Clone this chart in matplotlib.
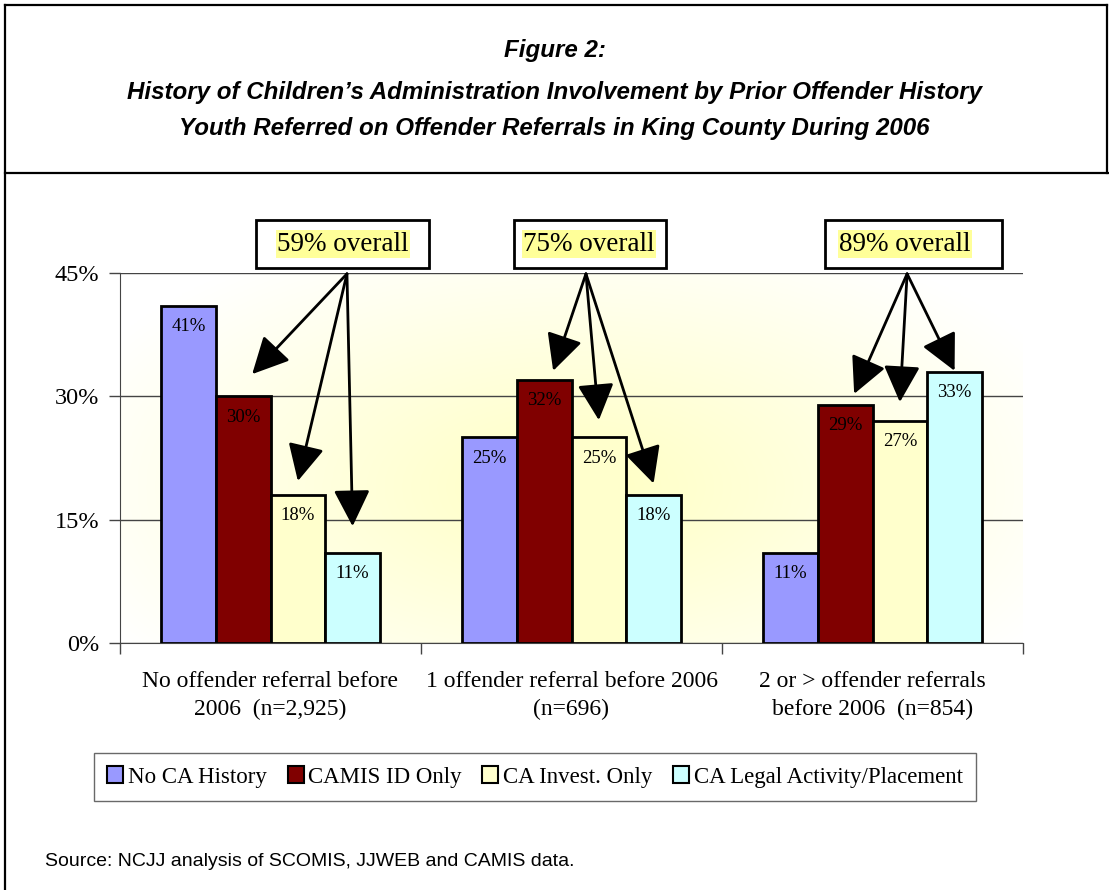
import numpy as np
import matplotlib
matplotlib.use("Agg")
import matplotlib.pyplot as plt
from matplotlib.patches import Patch, Rectangle
from matplotlib.lines import Line2D

# Data
categories = ["No offender referral before\n2006  (n=2,925)",
              "1 offender referral before 2006\n(n=696)",
              "2 or > offender referrals\nbefore 2006  (n=854)"]
series = ["No CA History", "CAMIS ID Only", "CA Invest. Only",
          "CA Legal Activity/Placement"]
no_ca = [41, 25, 11]
camis_id = [30, 32, 29]
ca_invest = [18, 25, 27]
ca_legal = [11, 18, 33]
overall = ["59% overall", "75% overall", "89% overall"]
bar_labels = [["41%", "25%", "11%"], ["30%", "32%", "29%"],
              ["18%", "25%", "27%"], ["11%", "18%", "33%"]]
colors = ["#9999FF", "#800000", "#FFFFCC", "#CCFFFF"]

SERIF = ["Liberation Serif", "DejaVu Serif"]
SANS = ["Liberation Sans", "DejaVu Sans"]

fig = plt.figure(figsize=(11.09, 8.90), dpi=100)
ax = fig.add_axes([120 / 1109, 1 - 643 / 890, 903 / 1109, 370 / 890])

# radial yellow glow behind the bars
gx, gy = np.meshgrid(np.linspace(0, 1, 300), np.linspace(0, 1, 300))
r = np.clip(np.sqrt(((gx - 0.5) / 0.6) ** 2 + ((gy - 0.42) / 0.75) ** 2), 0, 1)
glow = np.array([1.0, 1.0, 0.76])
img = (1 - r)[..., None] * glow + r[..., None] * np.array([1.0, 1.0, 1.0])
ax.imshow(img, extent=[-0.5, 2.5, 0, 45], aspect="auto", origin="lower", zorder=0)

x = np.arange(len(categories))
w = 1 / 5.5
all_vals = [no_ca, camis_id, ca_invest, ca_legal]
for i, vals in enumerate(all_vals):
    pos = x + (i - 1.5) * w
    ax.bar(pos, vals, w, color=colors[i], edgecolor="black", linewidth=2, zorder=3)
    for j, v in enumerate(vals):
        ax.annotate(bar_labels[i][j], (pos[j], v), xytext=(0, -9),
                    textcoords="offset points", ha="center", va="top",
                    fontsize=13.5, family=SERIF, zorder=4)

ax.set_xlim(-0.5, 2.5)
ax.set_ylim(0, 45)
ax.set_yticks([0, 15, 30, 45])
ax.set_yticklabels(["0%", "15%", "30%", "45%"], family=SERIF, fontsize=17.5)
ax.yaxis.grid(True, color="#444444", linewidth=1)
ax.set_axisbelow(True)
ax.tick_params(axis="y", length=8, width=1, color="#444444", pad=7)

ax.set_xticks([-0.5, 0.5, 1.5, 2.5])
ax.set_xticklabels([])
ax.tick_params(axis="x", which="major", length=8, width=1, color="#444444")
ax.set_xticks(x, minor=True)
ax.set_xticklabels(categories, minor=True, family=SERIF, fontsize=17,
                   linespacing=1.45)
ax.tick_params(axis="x", which="minor", length=0, pad=20)

for s in ["top", "right"]:
    ax.spines[s].set_visible(False)
ax.spines["left"].set_color("#444444")
ax.spines["bottom"].set_color("#444444")

# callout boxes with arrows to the CA bars
box_x = [(-0.048, 0.527), (-0.191, 0.314), (-0.158, 0.430)]
text_x = [0.241, 0.058, 0.108]
origin_x = [0.254, 0.048, 0.115]
tip_gap = [[2.7, 1.7, 3.2], [1.1, 2.1, 1.4], [1.3, 2.3, 0.1]]
tip_dx = [0.03, 0.0, 0.0]
for g in range(3):
    x0, x1 = box_x[g]
    ax.add_patch(Rectangle((g + x0, 45.6), x1 - x0, 5.9, facecolor="white",
                           edgecolor="black", linewidth=2, clip_on=False, zorder=5))
    ax.text(g + text_x[g], 48.5, overall[g], ha="center", va="center",
            fontsize=19.5, family=SERIF, zorder=6,
            bbox=dict(facecolor="#FFFF99", edgecolor="none", pad=1))
    for k, vals in enumerate([camis_id, ca_invest, ca_legal]):
        bx = g + (k - 0.5) * w + tip_dx[k]
        ax.annotate("", xy=(bx, vals[g] + tip_gap[g][k]),
                    xytext=(g + origin_x[g], 44.9),
                    arrowprops=dict(arrowstyle="-|>,head_length=0.9,head_width=0.45",
                                    color="black", lw=2, mutation_scale=25,
                                    shrinkA=0, shrinkB=0),
                    zorder=7, annotation_clip=False)

handles = [Patch(facecolor=c, edgecolor="black", linewidth=1.5) for c in colors]
leg = fig.legend(handles, series, loc="center", ncol=4,
                 bbox_to_anchor=(535 / 1109, 1 - 777 / 890),
                 prop={"family": SERIF, "size": 16.5}, frameon=True,
                 fancybox=False, handlelength=0.7, handleheight=0.75,
                 handletextpad=0.2, columnspacing=0.9, borderpad=0.6)
leg.get_frame().set_edgecolor("#444444")
leg.get_frame().set_linewidth(1)

# title block and frame
title_lines = ["Figure 2:",
               "History of Children\u2019s Administration Involvement by Prior Offender History",
               "Youth Referred on Offender Referrals in King County During 2006"]
for yy, line in zip([50, 92, 128], title_lines):
    fig.text(0.5, 1 - yy / 890, line, ha="center", va="center",
             fontsize=17.4, fontweight="bold", style="italic", family=SANS)
fig.text(45 / 1109, 1 - 862 / 890,
         "Source: NCJJ analysis of SCOMIS, JJWEB and CAMIS data.",
         ha="left", va="center", fontsize=14, family=SANS)

W, H = 1109, 890
frame = [([5, 5], [5, 890]), ([5, 1107], [5, 5]), ([1107, 1107], [5, 173]),
         ([5, 1109], [173, 173])]
for xs, ys in frame:
    fig.add_artist(Line2D([v / W for v in xs], [1 - v / H for v in ys],
                          color="black", linewidth=1.6))

fig.savefig("out.png", dpi=100)
